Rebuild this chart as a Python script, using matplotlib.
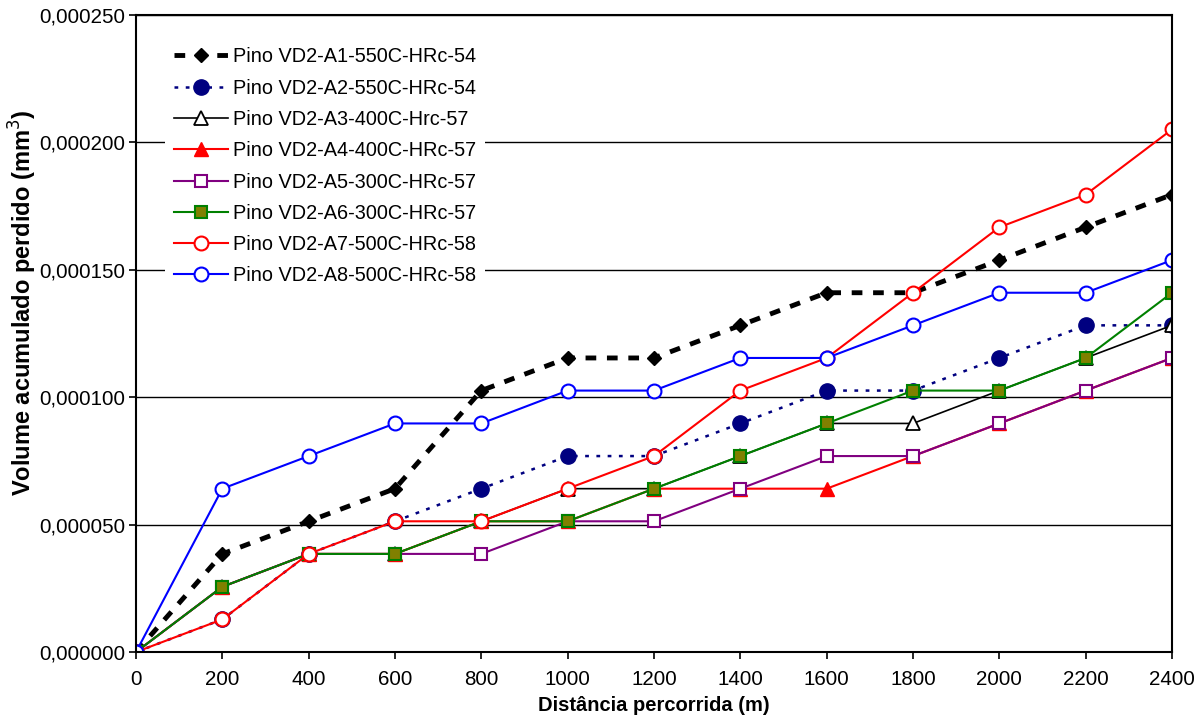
import matplotlib
matplotlib.use("Agg")
import matplotlib.pyplot as plt
from matplotlib.ticker import FuncFormatter, MultipleLocator

plt.rcParams['font.family'] = ['Liberation Sans', 'DejaVu Sans']

distance = [0, 200, 400, 600, 800, 1000, 1200, 1400, 1600, 1800, 2000, 2200, 2400]

a1 = [0.0, 0.0000385, 0.0000513, 0.0000641, 0.0001026, 0.0001154, 0.0001154,
      0.0001282, 0.0001410, 0.0001410, 0.0001538, 0.0001667, 0.0001795]
a2 = [0.0, 0.0000128, 0.0000385, 0.0000513, 0.0000641, 0.0000769, 0.0000769,
      0.0000897, 0.0001026, 0.0001026, 0.0001154, 0.0001282, 0.0001282]
a3 = [0.0, 0.0000256, 0.0000385, 0.0000385, 0.0000513, 0.0000641, 0.0000641,
      0.0000769, 0.0000897, 0.0000897, 0.0001026, 0.0001154, 0.0001282]
a4 = [0.0, 0.0000256, 0.0000385, 0.0000385, 0.0000513, 0.0000513, 0.0000641,
      0.0000641, 0.0000641, 0.0000769, 0.0000897, 0.0001026, 0.0001154]
a5 = [0.0, 0.0000256, 0.0000385, 0.0000385, 0.0000385, 0.0000513, 0.0000513,
      0.0000641, 0.0000769, 0.0000769, 0.0000897, 0.0001026, 0.0001154]
a6 = [0.0, 0.0000256, 0.0000385, 0.0000385, 0.0000513, 0.0000513, 0.0000641,
      0.0000769, 0.0000897, 0.0001026, 0.0001026, 0.0001154, 0.0001410]
a7 = [0.0, 0.0000128, 0.0000385, 0.0000513, 0.0000513, 0.0000641, 0.0000769,
      0.0001026, 0.0001154, 0.0001410, 0.0001667, 0.0001795, 0.0002051]
a8 = [0.0, 0.0000641, 0.0000769, 0.0000897, 0.0000897, 0.0001026, 0.0001026,
      0.0001154, 0.0001154, 0.0001282, 0.0001410, 0.0001410, 0.0001538]

labels = ["Pino VD2-A1-550C-HRc-54", "Pino VD2-A2-550C-HRc-54",
          "Pino VD2-A3-400C-Hrc-57", "Pino VD2-A4-400C-HRc-57",
          "Pino VD2-A5-300C-HRc-57", "Pino VD2-A6-300C-HRc-57",
          "Pino VD2-A7-500C-HRc-58", "Pino VD2-A8-500C-HRc-58"]

fig = plt.figure(figsize=(12, 7.17), dpi=100)
ax = fig.add_axes([136/1200, 1 - 652/717, (1172-136)/1200, (652-15)/717])

ax.plot(distance, a1, color='black', ls=(0, (2.2, 2.2)), lw=3.5, marker='D',
        ms=7, mfc='black', mec='black', label=labels[0])
ax.plot(distance, a2, color='#000080', ls=(0, (1.5, 3)), lw=1.8, marker='o',
        ms=11, mfc='#000080', mec='#000080', label=labels[1])
ax.plot(distance, a3, color='black', lw=1.2, marker='^', ms=10,
        mfc='white', mec='black', mew=1.3, label=labels[2])
ax.plot(distance, a4, color='#ff0000', lw=1.5, marker='^', ms=10,
        mfc='#ff0000', mec='#ff0000', label=labels[3])
ax.plot(distance, a5, color='#800080', lw=1.5, marker='s', ms=9,
        mfc='white', mec='#800080', mew=1.5, label=labels[4])
ax.plot(distance, a6, color='#008000', lw=1.5, marker='s', ms=9,
        mfc='#808000', mec='#008000', mew=1.5, label=labels[5])
ax.plot(distance, a7, color='#ff0000', lw=1.5, marker='o', ms=10,
        mfc='white', mec='#ff0000', mew=1.5, label=labels[6])
ax.plot(distance, a8, color='#0000ff', lw=1.5, marker='o', ms=10,
        mfc='white', mec='#0000ff', mew=1.5, label=labels[7])

ax.set_xlim(0, 2400)
ax.set_ylim(0, 0.00025)
ax.xaxis.set_major_locator(MultipleLocator(200))
ax.yaxis.set_major_locator(MultipleLocator(0.00005))
ax.yaxis.set_major_formatter(FuncFormatter(lambda v, p: f"{v:.6f}".replace('.', ',')))
ax.grid(axis='y', color='black', lw=1.0)
ax.set_axisbelow(True)
for s in ax.spines.values():
    s.set_linewidth(1.5)
    s.set_color('black')
ax.tick_params(axis='both', labelsize=14.8, direction='out', length=5, width=1.2)
ax.tick_params(axis='y', pad=2.5)
ax.tick_params(axis='x', pad=8)

ax.set_xlabel("Distância percorrida (m)", fontsize=14.5, fontweight='bold', labelpad=5)
ax.set_ylabel("Volume acumulado perdido (mm$^3$)", fontsize=17, fontweight='bold')
ax.yaxis.set_label_coords(-0.094, 0.548)

leg = ax.legend(loc='upper left', bbox_to_anchor=(0.018, 0.979), frameon=True,
                fontsize=14.3, handlelength=2.75, labelspacing=0.62,
                borderpad=0.45, handletextpad=0.25, fancybox=False)
leg.get_frame().set_edgecolor('none')
leg.get_frame().set_facecolor('white')
leg.get_frame().set_alpha(1.0)

fig.savefig("out.png", dpi=100)
